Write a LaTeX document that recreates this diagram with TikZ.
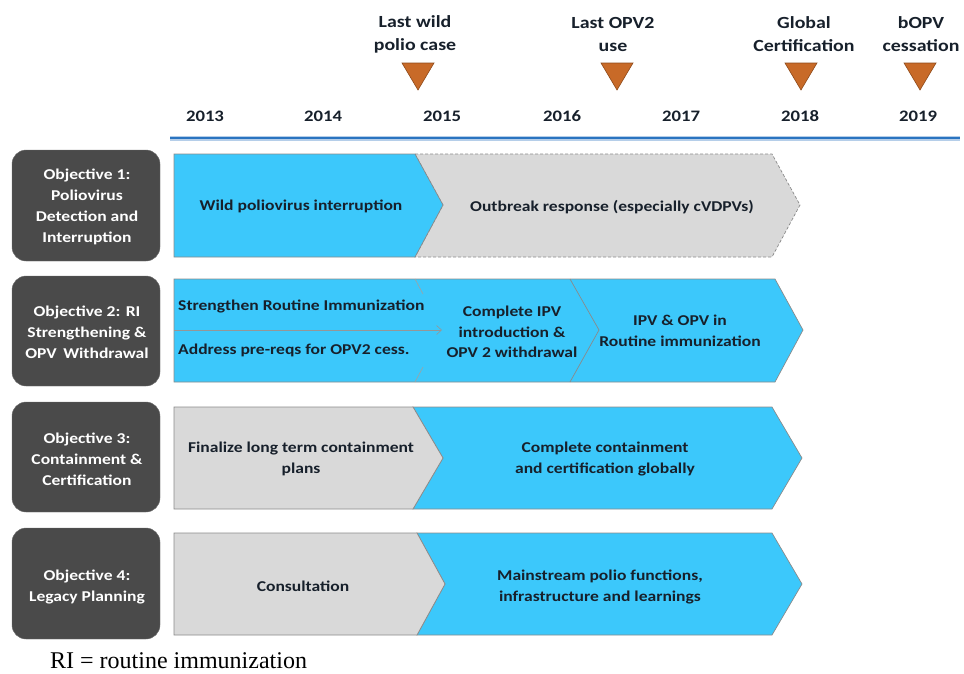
\documentclass[tikz,border=0pt]{standalone}
\usepackage{fontspec}
\setmainfont{Carlito}[FakeStretch=1.17]
\newfontfamily\notefont{Liberation Serif}
\usetikzlibrary{arrows.meta}
\definecolor{cblue}{HTML}{3CC8FB}
\definecolor{cgray}{HTML}{D9D9D9}
\definecolor{cedge}{HTML}{8A8A8A}
\definecolor{objgray}{HTML}{4A4A4A}
\definecolor{ctext}{HTML}{17202B}
\definecolor{tri}{HTML}{C86A28}
\definecolor{trid}{HTML}{8E4A1A}
\definecolor{tline}{HTML}{2A74C0}
\tikzset{
  objbox/.style={fill=objgray, draw=objgray!80, rounded corners=14pt, minimum width=148pt, inner sep=0pt},
  objtext/.style={text=white, font=\bfseries\fontsize{15}{21}\selectfont, align=center, inner sep=0pt},
  bartext/.style={text=ctext, font=\bfseries\fontsize{15}{20.5}\selectfont, align=center, inner sep=0pt},
  yeartext/.style={text=ctext, font=\bfseries\fontsize{16}{20}\selectfont, inner sep=0pt},
  toptext/.style={text=ctext, font=\bfseries\fontsize{17}{23}\selectfont, align=center, inner sep=0pt},
  bluebar/.style={fill=cblue, draw=cedge, line width=0.7pt, line join=miter},
  graybar/.style={fill=cgray, draw=cedge, line width=0.7pt, line join=miter},
  marker/.style={fill=tri, draw=trid, line width=0.6pt, line join=miter},
}
\begin{document}
\begin{tikzpicture}[x=1pt,y=-1pt]
\useasboundingbox (0,0) rectangle (964,673);
% timeline
\coordinate (tl0) at (170,138);
\coordinate (tl1) at (960,138);
\draw[tline!35, line width=5pt] (tl0) -- (tl1);
\draw[tline, line width=2.6pt] (tl0) -- (tl1);
\foreach \yr/\xx in {2013/205,2014/323,2015/442,2016/562,2017/681,2018/800,2019/918}
  \node[yeartext] (y\yr) at (\xx,116) {\yr};
% milestones
\node[toptext] (m1) at (415,34) {Last wild\\polio case};
\node[toptext] (m2) at (613,34) {Last OPV2\\use};
\node[toptext] (m3) at (804,34) {Global\\Certification};
\node[toptext] (m4) at (921,34) {bOPV\\cessation};
\foreach \xx/\nm in {418/t1,617/t2,801/t3,920/t4}
  \draw[marker] (\xx-16,63) -- (\xx+16,63) -- (\xx,90) -- cycle;
% objective boxes
\draw[objbox] (12,150) rectangle (160,261);
\draw[objbox] (12,276) rectangle (160,386);
\draw[objbox] (12,402) rectangle (160,512);
\draw[objbox] (12,528) rectangle (160,639);
\node[objtext] (o1) at (87,207) {Objective 1:\\Poliovirus\\Detection and\\Interruption};
\node[objtext] (o2) at (87,332) {Objective 2: RI\\Strengthening \&\\OPV\, Withdrawal};
\node[objtext] (o3) at (87,459) {Objective 3:\\Containment \&\\Certification};
\node[objtext] (o4) at (87,587) {Objective 4:\\Legacy Planning};
% row 1
\draw[graybar, dashed, dash pattern=on 3pt off 2pt] (415,154) -- (772,154) -- (800,205) -- (772,257) -- (415,257) -- (443,205) -- cycle;
\draw[bluebar] (174,154) -- (415,154) -- (443,205) -- (415,257) -- (174,257) -- cycle;
\node[bartext] (r1a) at (301,206) {Wild poliovirus interruption};
\node[bartext] (r1b) at (612,207) {Outbreak response (especially cVDPVs)};
% row 2
\draw[bluebar] (174,279) -- (775,279) -- (803,330) -- (775,382) -- (174,382) -- cycle;
\draw[cedge, line width=0.7pt] (570,279) -- (599,330) -- (570,382);
\draw[cedge!80, line width=0.6pt] (415,279) -- (423,294);
\draw[cedge!80, line width=0.6pt] (423,367) -- (415,382);
\coordinate (ar0) at (174,330);
\coordinate (ar1) at (442,330);
\draw[cedge!90, line width=0.6pt, -{Straight Barb[length=5pt,width=9pt]}] (ar0) -- (ar1);
\node[bartext, anchor=west] (r2a) at (178,306) {Strengthen Routine Immunization};
\node[bartext, anchor=west] (r2b) at (178,350) {Address pre-reqs for OPV2 cess.};
\node[bartext] (r2c) at (512,332) {Complete IPV\\introduction \&\\OPV 2 withdrawal};
\node[bartext] (r2d) at (680,331) {IPV \& OPV in\\Routine immunization};
% row 3
\draw[bluebar] (413,407) -- (772,407) -- (802,458) -- (772,509) -- (413,509) -- (443,458) -- cycle;
\draw[graybar] (174,407) -- (413,407) -- (443,458) -- (413,509) -- (174,509) -- cycle;
\node[bartext] (r3a) at (301,459) {Finalize long term containment\\plans};
\node[bartext] (r3b) at (605,459) {Complete containment\\and certification globally};
% row 4
\draw[bluebar] (417,533) -- (772,533) -- (802,584) -- (772,635) -- (417,635) -- (445,584) -- cycle;
\draw[graybar] (174,533) -- (417,533) -- (445,584) -- (417,635) -- (174,635) -- cycle;
\node[bartext] (r4a) at (303,586) {Consultation};
\node[bartext] (r4b) at (600,587) {Mainstream polio functions,\\infrastructure and learnings};
% note
\node[anchor=base west, inner sep=0pt, font=\notefont\fontsize{24}{26}\selectfont] (note) at (50,668) {RI = routine immunization};
\end{tikzpicture}
\end{document}
